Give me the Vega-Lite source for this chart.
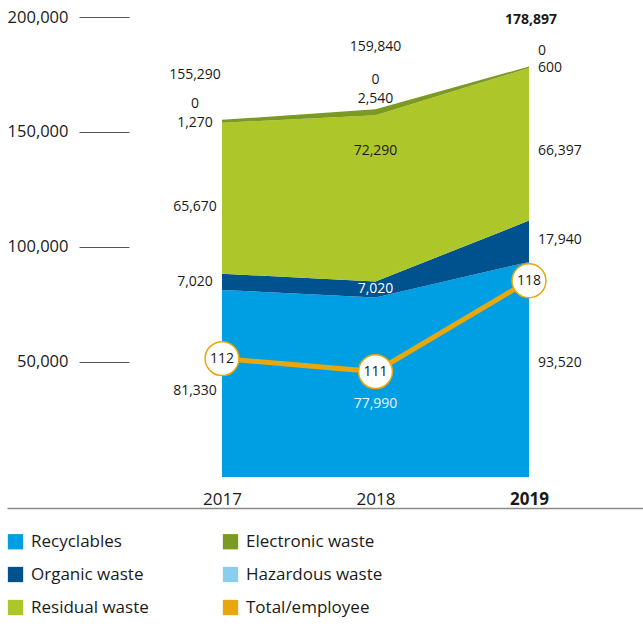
{
  "$schema": "https://vega.github.io/schema/vega-lite/v6.json",
  "width": 636,
  "height": 491,
  "autosize": {"type": "none"},
  "padding": {"left": 7, "top": 17, "right": 0, "bottom": 125},
  "background": "white",
  "config": {
    "view": {"stroke": null},
    "font": "Open Sans",
    "text": {"fontSize": 14, "color": "#1a1a1a", "baseline": "middle", "font": "Open Sans"}
  },
  "datasets": {
    "waste": [
      {"year": 2017, "type": "Recyclables", "value": 81330},
      {"year": 2017, "type": "Organic waste", "value": 7020},
      {"year": 2017, "type": "Residual waste", "value": 65670},
      {"year": 2017, "type": "Electronic waste", "value": 1270},
      {"year": 2017, "type": "Hazardous waste", "value": 0},
      {"year": 2018, "type": "Recyclables", "value": 77990},
      {"year": 2018, "type": "Organic waste", "value": 7020},
      {"year": 2018, "type": "Residual waste", "value": 72290},
      {"year": 2018, "type": "Electronic waste", "value": 2540},
      {"year": 2018, "type": "Hazardous waste", "value": 0},
      {"year": 2019, "type": "Recyclables", "value": 93520},
      {"year": 2019, "type": "Organic waste", "value": 17940},
      {"year": 2019, "type": "Residual waste", "value": 66397},
      {"year": 2019, "type": "Electronic waste", "value": 600},
      {"year": 2019, "type": "Hazardous waste", "value": 0}
    ],
    "totals": [
      {"year": 2017, "total": 155290},
      {"year": 2018, "total": 159840},
      {"year": 2019, "total": 178897}
    ],
    "employee": [
      {"year": 2017, "perEmployee": 112},
      {"year": 2018, "perEmployee": 111},
      {"year": 2019, "perEmployee": 118}
    ]
  },
  "encoding": {
    "x": {
      "field": "year",
      "type": "quantitative",
      "scale": {"domain": [2015.5993, 2019.7427], "nice": false, "zero": false},
      "axis": {
        "values": [2017, 2018, 2019],
        "format": "d",
        "ticks": false,
        "tickSize": 0,
        "domain": true,
        "domainColor": "#8a8a8a",
        "domainWidth": 1.5,
        "labelFontSize": 17,
        "labelColor": "#1a1a1a",
        "labelPadding": -4,
        "labelBaseline": "alphabetic",
        "labelFontWeight": {"condition": {"test": "datum.value == 2019", "value": "bold"}, "value": "normal"},
        "labelFlush": false,
        "labelOverlap": false,
        "grid": false,
        "title": null
      }
    }
  },
  "layer": [
    {
      "data": {"name": "waste"},
      "transform": [
        {"calculate": "indexof(['Recyclables','Organic waste','Residual waste','Electronic waste','Hazardous waste'], datum.type)", "as": "order"},
        {"stack": "value", "groupby": ["year"], "sort": [{"field": "order", "order": "ascending"}], "as": ["y0", "y1"]},
        {"calculate": "datum.type == 'Electronic waste' || datum.type == 'Hazardous waste' ? datum.y1 : (datum.y0 + datum.y1) / 2", "as": "ly"}
      ],
      "layer": [
        {
          "mark": {"type": "area", "interpolate": "linear", "opacity": 1},
          "encoding": {
            "y": {
              "field": "y1",
              "type": "quantitative",
              "stack": null,
              "title": null,
              "scale": {"domain": [-13500, 200000], "nice": false, "zero": false},
              "axis": {
                "values": [50000, 100000, 150000, 200000],
                "labelExpr": "format(datum.value, ',')",
                "offset": 0,
                "tickSize": -122,
                "tickDash": [0, 72, 50],
                "tickWidth": 1.2,
                "tickColor": "#555555",
                "labelPadding": 61,
                "labelFontSize": 16.5,
                "labelColor": "#1a1a1a",
                "domain": false,
                "grid": false,
                "title": null
              }
            },
            "y2": {"field": "y0"},
            "color": {
              "field": "type",
              "type": "nominal",
              "scale": {
                "domain": ["Recyclables", "Organic waste", "Residual waste", "Electronic waste", "Hazardous waste", "Total/employee"],
                "range": ["#009FE3", "#00528F", "#ADC62A", "#7B9A22", "#87CEEF", "#E8A80C"]
              },
              "legend": {
                "orient": "none",
                "legendX": 0,
                "legendY": 516,
                "columns": 2,
                "columnPadding": 73,
                "rowPadding": 15,
                "symbolType": "square",
                "symbolSize": 234,
                "symbolStrokeWidth": 0,
                "symbolOpacity": 1,
                "labelFontSize": 17,
                "labelColor": "#1a1a1a",
                "labelOffset": 7,
                "padding": 0,
                "title": null
              }
            }
          }
        },
        {
          "mark": {"type": "text", "align": "center", "dx": -27, "dy": 8},
          "transform": [{"filter": "datum.year == 2017 && datum.type == 'Recyclables'"}],
          "encoding": {"y": {"field": "ly", "type": "quantitative", "title": null}, "text": {"field": "value", "type": "quantitative", "format": ","}}
        },
        {
          "mark": {"type": "text", "align": "center", "dx": -27, "dy": 0},
          "transform": [{"filter": "datum.year == 2017 && datum.type == 'Organic waste'"}],
          "encoding": {"y": {"field": "ly", "type": "quantitative", "title": null}, "text": {"field": "value", "type": "quantitative", "format": ","}}
        },
        {
          "mark": {"type": "text", "align": "center", "dx": -27, "dy": 9},
          "transform": [{"filter": "datum.year == 2017 && datum.type == 'Residual waste'"}],
          "encoding": {"y": {"field": "ly", "type": "quantitative", "title": null}, "text": {"field": "value", "type": "quantitative", "format": ","}}
        },
        {
          "mark": {"type": "text", "align": "center", "dx": -27, "dy": 3},
          "transform": [{"filter": "datum.year == 2017 && datum.type == 'Electronic waste'"}],
          "encoding": {"y": {"field": "ly", "type": "quantitative", "title": null}, "text": {"field": "value", "type": "quantitative", "format": ","}}
        },
        {
          "mark": {"type": "text", "align": "center", "dx": -27, "dy": -16},
          "transform": [{"filter": "datum.year == 2017 && datum.type == 'Hazardous waste'"}],
          "encoding": {"y": {"field": "ly", "type": "quantitative", "title": null}, "text": {"field": "value", "type": "quantitative", "format": ","}}
        },
        {
          "mark": {"type": "text", "align": "center", "dx": 0, "dy": 17, "color": "#eaf6fd"},
          "transform": [{"filter": "datum.year == 2018 && datum.type == 'Recyclables'"}],
          "encoding": {"y": {"field": "ly", "type": "quantitative", "title": null}, "text": {"field": "value", "type": "quantitative", "format": ","}}
        },
        {
          "mark": {"type": "text", "align": "center", "dx": 0, "dy": -1, "color": "#ffffff"},
          "transform": [{"filter": "datum.year == 2018 && datum.type == 'Organic waste'"}],
          "encoding": {"y": {"field": "ly", "type": "quantitative", "title": null}, "text": {"field": "value", "type": "quantitative", "format": ","}}
        },
        {
          "mark": {"type": "text", "align": "center", "dx": 0, "dy": -47},
          "transform": [{"filter": "datum.year == 2018 && datum.type == 'Residual waste'"}],
          "encoding": {"y": {"field": "ly", "type": "quantitative", "title": null}, "text": {"field": "value", "type": "quantitative", "format": ","}}
        },
        {
          "mark": {"type": "text", "align": "center", "dx": 0, "dy": -10},
          "transform": [{"filter": "datum.year == 2018 && datum.type == 'Electronic waste'"}],
          "encoding": {"y": {"field": "ly", "type": "quantitative", "title": null}, "text": {"field": "value", "type": "quantitative", "format": ","}}
        },
        {
          "mark": {"type": "text", "align": "center", "dx": 0, "dy": -29},
          "transform": [{"filter": "datum.year == 2018 && datum.type == 'Hazardous waste'"}],
          "encoding": {"y": {"field": "ly", "type": "quantitative", "title": null}, "text": {"field": "value", "type": "quantitative", "format": ","}}
        },
        {
          "mark": {"type": "text", "align": "left", "dx": 9, "dy": -6},
          "transform": [{"filter": "datum.year == 2019 && datum.type == 'Recyclables'"}],
          "encoding": {"y": {"field": "ly", "type": "quantitative", "title": null}, "text": {"field": "value", "type": "quantitative", "format": ","}}
        },
        {
          "mark": {"type": "text", "align": "left", "dx": 9, "dy": -1},
          "transform": [{"filter": "datum.year == 2019 && datum.type == 'Organic waste'"}],
          "encoding": {"y": {"field": "ly", "type": "quantitative", "title": null}, "text": {"field": "value", "type": "quantitative", "format": ","}}
        },
        {
          "mark": {"type": "text", "align": "left", "dx": 9, "dy": 7},
          "transform": [{"filter": "datum.year == 2019 && datum.type == 'Residual waste'"}],
          "encoding": {"y": {"field": "ly", "type": "quantitative", "title": null}, "text": {"field": "value", "type": "quantitative", "format": ","}}
        },
        {
          "mark": {"type": "text", "align": "left", "dx": 9, "dy": 1.5},
          "transform": [{"filter": "datum.year == 2019 && datum.type == 'Electronic waste'"}],
          "encoding": {"y": {"field": "ly", "type": "quantitative", "title": null}, "text": {"field": "value", "type": "quantitative", "format": ","}}
        },
        {
          "mark": {"type": "text", "align": "left", "dx": 9, "dy": -16},
          "transform": [{"filter": "datum.year == 2019 && datum.type == 'Hazardous waste'"}],
          "encoding": {"y": {"field": "ly", "type": "quantitative", "title": null}, "text": {"field": "value", "type": "quantitative", "format": ","}}
        },
        {
          "data": {"name": "totals"},
          "mark": {"type": "text", "align": "center", "dx": -27, "dy": -45},
          "transform": [{"filter": "datum.year == 2017"}],
          "encoding": {"y": {"field": "total", "type": "quantitative", "title": null}, "text": {"field": "total", "type": "quantitative", "format": ","}}
        },
        {
          "data": {"name": "totals"},
          "mark": {"type": "text", "align": "center", "dx": 0, "dy": -62},
          "transform": [{"filter": "datum.year == 2018"}],
          "encoding": {"y": {"field": "total", "type": "quantitative", "title": null}, "text": {"field": "total", "type": "quantitative", "format": ","}}
        },
        {
          "data": {"name": "totals"},
          "mark": {"type": "text", "align": "center", "dx": 2, "dy": -46, "fontWeight": "bold"},
          "transform": [{"filter": "datum.year == 2019"}],
          "encoding": {"y": {"field": "total", "type": "quantitative", "title": null}, "text": {"field": "total", "type": "quantitative", "format": ","}}
        }
      ]
    },
    {
      "data": {"name": "employee"},
      "encoding": {
        "y": {
          "field": "perEmployee",
          "type": "quantitative",
          "scale": {"domain": [100.5, 138.3], "nice": false, "zero": false},
          "axis": null
        }
      },
      "layer": [
        {"mark": {"type": "line", "color": "#E8A80C", "strokeWidth": 5}, "encoding": {}},
        {"mark": {"type": "point", "shape": "circle", "filled": true, "fill": "white", "stroke": "#E8A80C", "strokeWidth": 1.5, "size": 1150, "opacity": 1, "fillOpacity": 1}, "encoding": {}},
        {"mark": {"type": "text", "align": "center", "fontSize": 14}, "encoding": {"text": {"field": "perEmployee", "type": "quantitative"}}}
      ]
    }
  ],
  "resolve": {"scale": {"y": "independent"}}
}
